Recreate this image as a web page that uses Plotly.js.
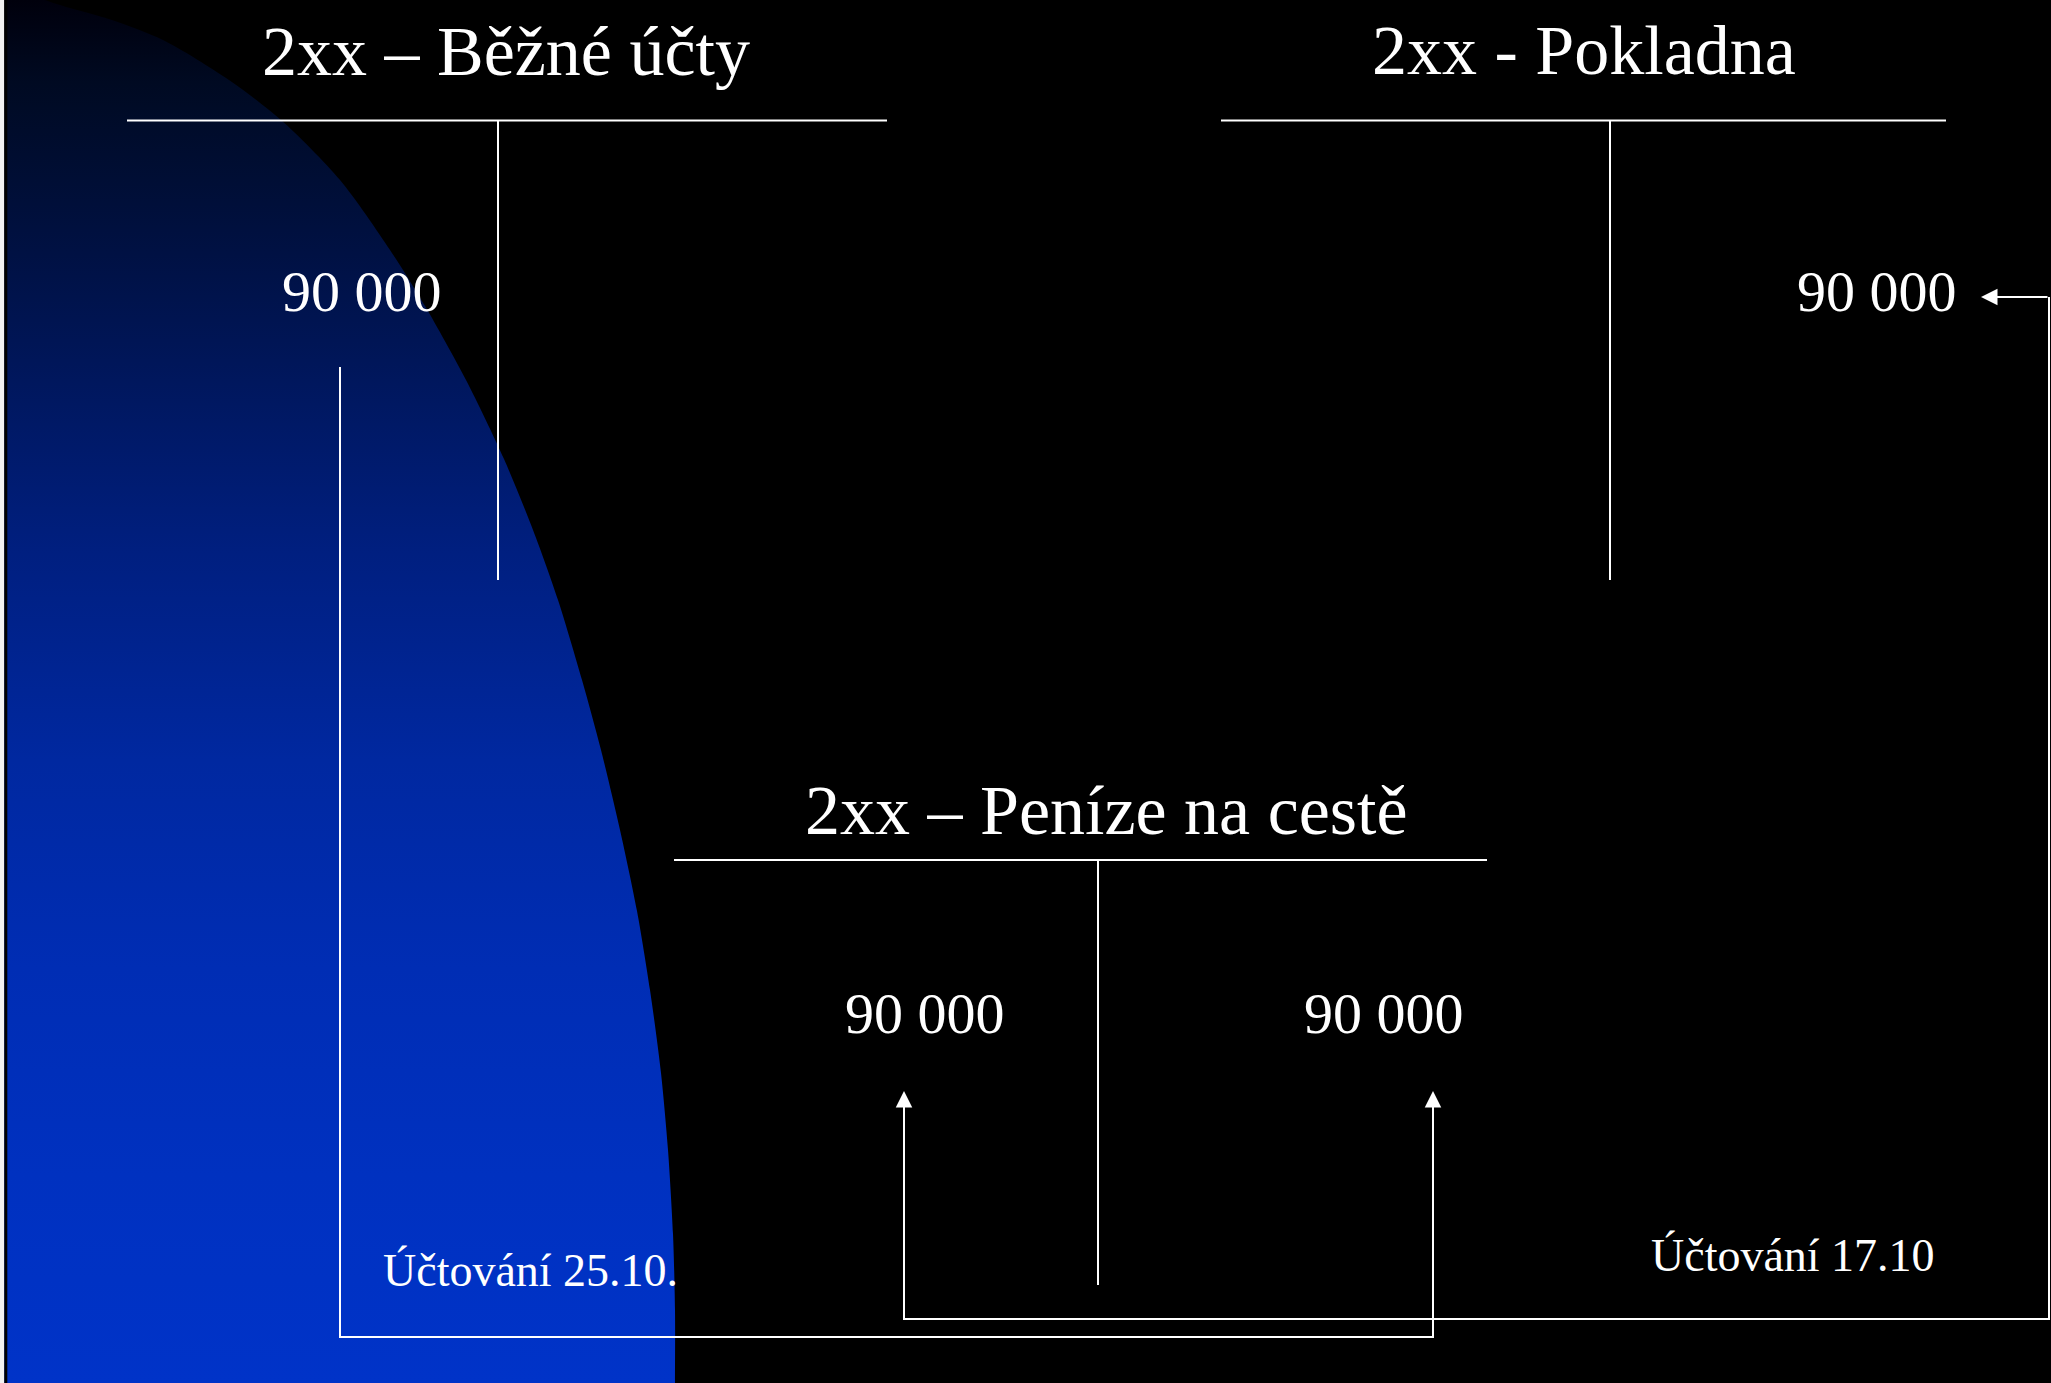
<!DOCTYPE html>
<html>
<head>
<meta charset="utf-8">
<script src="https://cdn.plot.ly/plotly-3.0.1.min.js"></script>
<style>
  html, body { margin: 0; padding: 0; background: #000; overflow: hidden; }
  #chart { width: 2051px; height: 1383px; }
</style>
</head>
<body>
<div id="chart"></div>
<script>
// ---- content ----
const accountTitles = ["2xx – Běžné účty", "2xx - Pokladna", "2xx – Peníze na cestě"];
const accountDebit  = ["90 000", "", "90 000"];
const accountCredit = ["", "90 000", "90 000"];
const postingLabels = ["Účtování 25.10.", "Účtování 17.10"];

// decorative backdrop edge (slide pixels)
const backdropEdgeY = [0, 20, 40, 80, 120, 180, 250, 306, 380, 459, 530, 600, 680, 750, 830, 911, 990, 1073, 1150, 1234, 1310, 1383];
const backdropEdgeX = [45, 112, 163, 229, 281, 340, 390, 425, 466, 504, 533, 558, 582, 601, 620, 637, 650, 661, 668, 673, 675, 675];

// ---- layout geometry (slide pixels) ----
const W = 2051, H = 1383;
const tAccounts = [
  {hx0: 127, hx1: 887, hy: 120.5, vx: 498, vy1: 580, titleX: 506, titleBase: 75,  debitX: 362, creditX: null, amtBase: 311},
  {hx0: 1221, hx1: 1946, hy: 120.5, vx: 1610, vy1: 580, titleX: 1584, titleBase: 74, debitX: null, creditX: 1877, amtBase: 311},
  {hx0: 674, hx1: 1487, hy: 860, vx: 1098, vy1: 1285, titleX: 1106, titleBase: 834, debitX: 925, creditX: 1384, amtBase: 1033}
];
const labelPos = [{x: 530, base: 1286}, {x: 1793, base: 1271}];

const FONT = "'Liberation Serif', 'Times New Roman', Times, serif";
const TITLE_SIZE = 70, AMT_SIZE = 58, LABEL_SIZE = 46;
// convert baseline to middle of text box (Liberation Serif ascent .891, descent .216)
const mid = (base, size) => base - 0.3375 * size;

const traces = [{
  type: 'scatter', mode: 'lines',
  x: [-40, -40].concat(backdropEdgeX, [675, -40]),
  y: [H + 40, -40].concat(backdropEdgeY, [H + 40, H + 40]),
  fill: 'toself',
  line: {width: 0, color: 'rgba(0,0,0,0)', shape: 'spline', smoothing: 0.8},
  fillgradient: {
    type: 'vertical', start: 0, stop: H,
    colorscale: [
      [0, '#00000c'], [0.06, '#000a22'], [0.2, '#001248'], [0.4, '#001f80'],
      [0.55, '#0028a0'], [0.7, '#002db4'], [0.85, '#0031c0'], [1, '#0033c8']
    ]
  },
  hoverinfo: 'skip', showlegend: false
}];

const shapes = [];
const annotations = [];
const white = '#ffffff';

tAccounts.forEach((t, i) => {
  shapes.push({type: 'line', xref: 'x', yref: 'y', x0: t.hx0, x1: t.hx1, y0: t.hy, y1: t.hy, line: {color: white, width: 2.2}});
  shapes.push({type: 'line', xref: 'x', yref: 'y', x0: t.vx, x1: t.vx, y0: t.hy, y1: t.vy1, line: {color: white, width: 2}});
  annotations.push({x: t.titleX, y: mid(t.titleBase, TITLE_SIZE), xref: 'x', yref: 'y', text: accountTitles[i],
    showarrow: false, xanchor: 'center', yanchor: 'middle', font: {family: FONT, size: TITLE_SIZE, color: white}});
  if (accountDebit[i]) annotations.push({x: t.debitX, y: mid(t.amtBase, AMT_SIZE), xref: 'x', yref: 'y', text: accountDebit[i],
    showarrow: false, xanchor: 'center', yanchor: 'middle', font: {family: FONT, size: AMT_SIZE, color: white}});
  if (accountCredit[i]) annotations.push({x: t.creditX, y: mid(t.amtBase, AMT_SIZE), xref: 'x', yref: 'y', text: accountCredit[i],
    showarrow: false, xanchor: 'center', yanchor: 'middle', font: {family: FONT, size: AMT_SIZE, color: white}});
});

postingLabels.forEach((lbl, i) => {
  annotations.push({x: labelPos[i].x, y: mid(labelPos[i].base, LABEL_SIZE), xref: 'x', yref: 'y', text: lbl,
    showarrow: false, xanchor: 'center', yanchor: 'middle', font: {family: FONT, size: LABEL_SIZE, color: white}});
});

// posting connector lines
// 17.10: Pokladna credit -> Peníze na cestě debit
shapes.push({type: 'path', xref: 'x', yref: 'y', path: 'M 2049,297 L 2049,1319 L 904,1319 L 904,1105', line: {color: white, width: 2}});
// 25.10: Běžné účty debit -> Peníze na cestě credit
shapes.push({type: 'path', xref: 'x', yref: 'y', path: 'M 340,367 L 340,1337 L 1433,1337 L 1433,1105', line: {color: white, width: 2}});

const arrow = (x, y, ax, ay) => ({x, y, ax, ay, xref: 'x', yref: 'y', axref: 'x', ayref: 'y', text: '',
  showarrow: true, arrowhead: 2, arrowsize: 1.65, arrowwidth: 2, arrowcolor: white, standoff: 0});
annotations.push(arrow(1981, 297, 2049, 297));
annotations.push(arrow(904, 1091, 904, 1200));
annotations.push(arrow(1433, 1091, 1433, 1200));

// slide left edge
shapes.push({type: 'rect', xref: 'x', yref: 'y', x0: 0, x1: 4.3, y0: 0, y1: H, fillcolor: '#f2f2f2', line: {width: 0}});
shapes.push({type: 'rect', xref: 'x', yref: 'y', x0: 4.3, x1: 7.3, y0: 0, y1: H, fillcolor: '#000000', line: {width: 0}});

const layout = {
  width: W, height: H,
  margin: {l: 0, r: 0, t: 0, b: 0, pad: 0},
  paper_bgcolor: '#000000', plot_bgcolor: '#000000',
  xaxis: {range: [0, W], visible: false, fixedrange: true},
  yaxis: {range: [H, 0], visible: false, fixedrange: true},
  showlegend: false,
  shapes, annotations
};

Plotly.newPlot('chart', traces, layout, {displayModeBar: false, staticPlot: true});
</script>
</body>
</html>
